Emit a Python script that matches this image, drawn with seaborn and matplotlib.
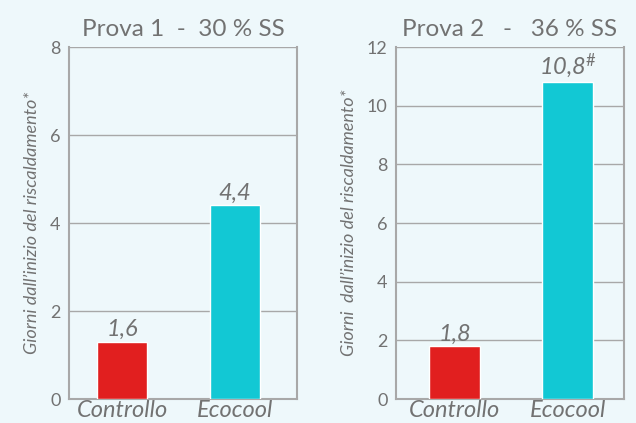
import pandas as pd
import matplotlib.pyplot as plt
import seaborn as sns

# data
categories = ['Controllo', 'Ecocool']
prova1_values = [1.3, 4.4]      # bar heights as drawn
prova1_labels = ['1,6', '4,4']  # printed labels
prova2_values = [1.8, 10.8]
prova2_labels = ['1,8', '10,8#']
prova1_ticks = [0, 2, 4, 6, 8]
prova2_ticks = [0, 2, 4, 6, 8, 10, 12]
titles = ['Prova 1  -  30 % SS', 'Prova 2   -   36 % SS']
ylabels = ['Giorni dall\u2019inizio del riscaldamento*',
           'Giorni  dall\u2019inizio del riscaldamento*']

bg = '#eef8fb'
grey = '#727272'
line = '#a8a8a8'
palette = {'Controllo': '#e11f1f', 'Ecocool': '#12c8d4'}

sns.set_style('white')
plt.rcParams['font.family'] = ['Lato', 'DejaVu Sans']
plt.rcParams['mathtext.fontset'] = 'custom'
plt.rcParams['mathtext.rm'] = 'Lato'
plt.rcParams['mathtext.it'] = 'Lato:italic'

fig = plt.figure(figsize=(6.36, 4.23), dpi=100, facecolor=bg)
ax1 = fig.add_axes([69 / 636, 1 - 399 / 423, 228 / 636, 352 / 423])
ax2 = fig.add_axes([396 / 636, 1 - 399 / 423, 228 / 636, 352 / 423])

panels = [
    (ax1, prova1_values, prova1_labels, prova1_ticks, (-0.47, 1.55)),
    (ax2, prova2_values, prova2_labels, prova2_ticks, (-0.52, 1.50)),
]

for i, (ax, vals, labs, ticks, xlim) in enumerate(panels):
    df = pd.DataFrame({'cat': categories, 'val': vals})
    sns.barplot(data=df, x='cat', y='val', hue='cat', palette=palette,
                width=0.45, legend=False, ax=ax, zorder=3, saturation=1)
    ax.set_facecolor(bg)
    ax.set_xlim(*xlim)
    ax.set_ylim(ticks[0], ticks[-1])
    ax.set_yticks(ticks)
    ax.set_yticklabels([str(t) for t in ticks], fontsize=13, color=grey)
    ax.yaxis.grid(True, color=line, linewidth=1, zorder=0)
    ax.set_axisbelow(True)
    ax.tick_params(axis='y', length=4, color=line, pad=2)
    ax.tick_params(axis='x', length=0, pad=1)
    ax.set_xticks([0, 1])
    ax.set_xticklabels(categories, fontsize=17, color=grey, style='italic')
    ax.set_xlabel('')
    ax.set_ylabel(ylabels[i], fontsize=13, color=grey, style='italic',
                  labelpad=7)
    for s in ['left', 'right', 'bottom']:
        ax.spines[s].set_color(line)
        ax.spines[s].set_linewidth(1.5)
    ax.spines['top'].set_visible(False)
    ax.set_title(titles[i], fontsize=17.5, color=grey, pad=8)
    for x, (v, lab) in enumerate(zip(vals, labs)):
        txt = lab.replace('#', r'$^{\#}$')
        ax.text(x, v + ticks[-1] * 0.005, txt, ha='center', va='bottom',
                fontsize=17, color=grey, style='italic', zorder=4)

plt.savefig('out.png', dpi=100, facecolor=bg)
